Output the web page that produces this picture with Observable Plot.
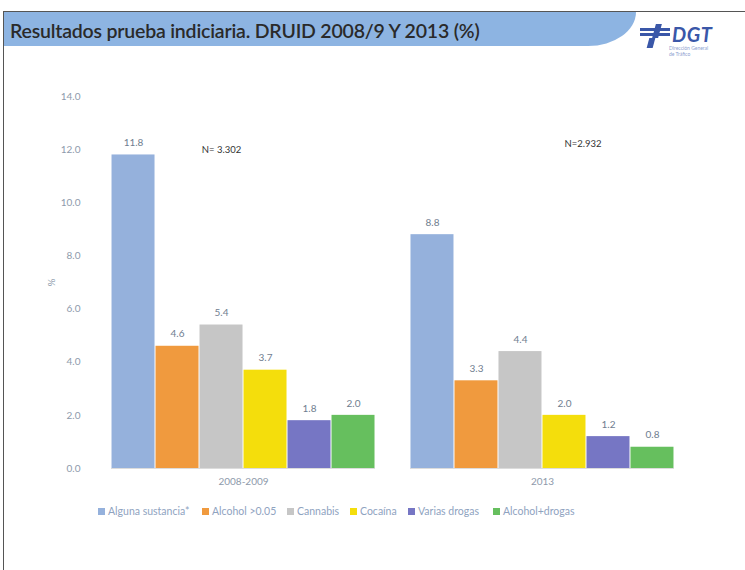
<!DOCTYPE html>
<html><head><meta charset="utf-8">
<script src="https://cdn.jsdelivr.net/npm/d3@7"></script>
<script src="https://cdn.jsdelivr.net/npm/@observablehq/plot@0.6"></script>
<style>
body{margin:0;background:#fff;font-family:Lato,"Open Sans",sans-serif;}
#wrap{position:relative;width:745px;height:570px;overflow:hidden;background:#fff;}
#frame{position:absolute;left:3px;top:11px;width:800px;height:700px;border-left:1px solid #555;border-top:1px solid #555;}
#band{position:absolute;left:4px;top:12px;width:632px;height:34px;background:#8DB4E2;border-bottom-right-radius:48px 34px;}
#title{position:absolute;left:10px;top:19px;font-size:19.5px;font-weight:600;color:#2a2a2a;letter-spacing:-0.2px;}
#chart{position:absolute;left:0;top:0;}
#logo{position:absolute;left:640px;top:22px;}
#logo .dgt{position:absolute;left:32px;top:0px;font:italic 700 20px Lato,sans-serif;color:#3a57a8;letter-spacing:0.5px;}
#logo .sub{position:absolute;left:29px;top:23px;font-size:5px;line-height:6px;color:#8e9fd0;width:40px;}
#logo .b{position:absolute;background:#3a57a8;height:3px;}
#legend{position:absolute;top:505px;left:0;width:745px;height:14px;font-size:10.5px;color:#8fa3bf;white-space:nowrap;}
#legend .it{position:absolute;top:0;display:flex;align-items:center;}
#legend .sw{width:7px;height:7px;margin-right:3px;}
</style></head>
<body>
<div id="wrap">
  <div id="frame"></div>
  <div id="band"></div>
  <div id="title">Resultados prueba indiciaria. DRUID 2008/9 Y 2013 (%)</div>
  <div id="logo">
    <div class="b" style="left:14px;top:2px;width:6px;height:14px;transform:skewX(-15deg)"></div>
    <div class="b" style="left:0px;top:6px;width:30px;"></div>
    <div class="b" style="left:0px;top:11px;width:30px;"></div>
    <div class="b" style="left:8px;top:16px;width:6px;height:10px;transform:skewX(-15deg)"></div>
    <div class="dgt">DGT</div>
    <div class="sub">Dirección General de Tráfico</div>
  </div>
  <div id="chart"></div>
  <div id="legend"></div>
</div>
<script>
const groups = ["2008-2009", "2013"];
const categories = ["Alguna sustancia*", "Alcohol >0.05", "Cannabis", "Cocaína", "Varias drogas", "Alcohol+drogas"];
const values2008 = [11.8, 4.6, 5.4, 3.7, 1.8, 2.0];
const values2013 = [8.8, 3.3, 4.4, 2.0, 1.2, 0.8];
const colors = ["#95B1DC", "#F09A3E", "#C6C6C6", "#F4DE0C", "#7676C4", "#66BF5E"];
const yTicks = [0, 2, 4, 6, 8, 10, 12, 14];
const nNotes = [
  {group: "2008-2009", cat: "Cannabis", y: 12, text: "N= 3.302"},
  {group: "2013", cat: "Cocaína", y: 12.2, text: "N=2.932"}
];

const series = [values2008, values2013];
const data = groups.flatMap((g, i) => categories.map((c, j) => ({group: g, cat: c, value: series[i][j]})));

const chart = Plot.plot({
  width: 745, height: 540,
  marginLeft: 88, marginRight: 48, marginTop: 96, marginBottom: 72,
  style: {fontFamily: "Lato, 'Open Sans', sans-serif", fontSize: "10px", color: "#8e9aab", background: "transparent"},
  fx: {domain: groups, paddingInner: 0.117, paddingOuter: 0.077, round: false, label: null, axis: "bottom", tickSize: 0, tickPadding: 9},
  x: {domain: categories, padding: 0, round: false, axis: null},
  y: {domain: [0, 14], ticks: yTicks, tickFormat: d3.format(".1f"), tickSize: 0, tickPadding: 31, label: "%", labelArrow: "none", labelAnchor: "center", labelOffset: 64},
  color: {domain: categories, range: colors},
  marks: [
    Plot.ruleY([0], {stroke: "#dcdcdc"}),
    Plot.barY(data, {fx: "group", x: "cat", y: "value", fill: "cat", insetLeft: 0.5, insetRight: 0.5}),
    Plot.text(data, {fx: "group", x: "cat", y: "value", text: d => d.value.toFixed(1), dy: -12, fill: "#6f7d8f", fontSize: 10}),
    Plot.text(nNotes.slice(0, 1), {fx: "group", x: "cat", y: "y", text: "text", fill: "#333", fontSize: 9.5}),
    Plot.text(nNotes.slice(1), {fx: "group", x: "cat", y: "y", text: "text", fill: "#333", fontSize: 9.5, textAnchor: "start"})
  ]
});
document.getElementById("chart").appendChild(chart);

const legendLeft = [98, 202, 287, 350, 408, 493];
const legend = document.getElementById("legend");
categories.forEach((c, i) => {
  const it = document.createElement("div");
  it.className = "it";
  it.style.left = legendLeft[i] + "px";
  const sw = document.createElement("span");
  sw.className = "sw";
  sw.style.background = colors[i];
  const t = document.createElement("span");
  t.textContent = c;
  it.appendChild(sw); it.appendChild(t);
  legend.appendChild(it);
});
</script>
</body></html>
